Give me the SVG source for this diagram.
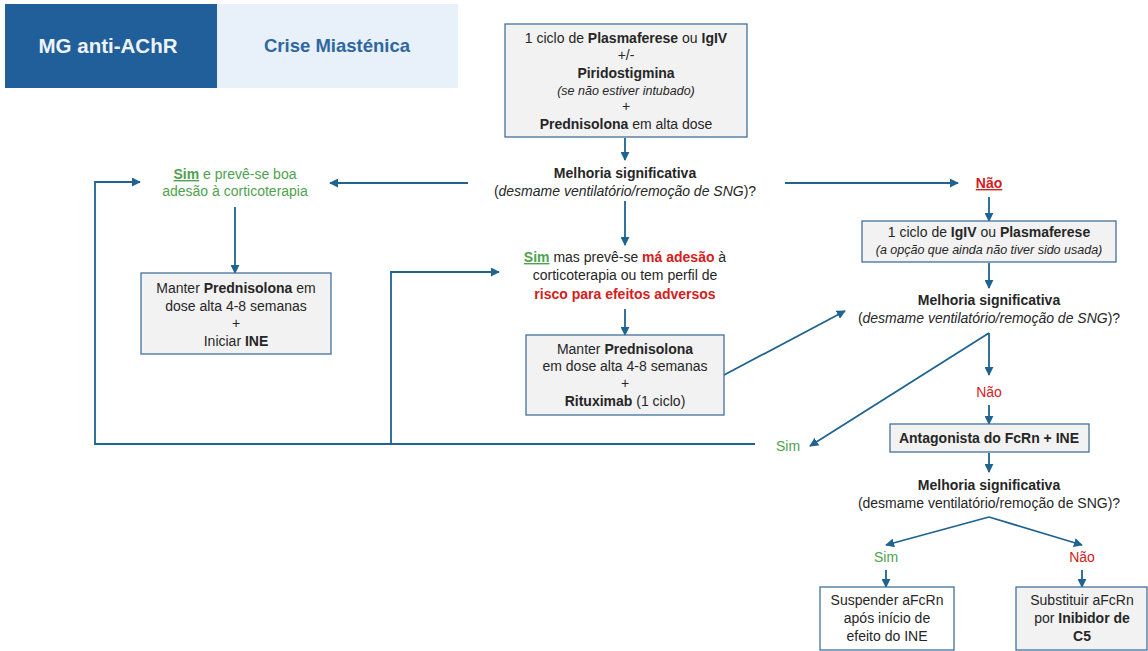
<svg xmlns="http://www.w3.org/2000/svg" width="1148" height="651" viewBox="0 0 1148 651">
  <defs>
    <marker id="arr" viewBox="0 0 10 10" refX="9" refY="5" markerWidth="9" markerHeight="9" markerUnits="userSpaceOnUse" orient="auto">
      <path d="M0,0 L10,5 L0,10 z" fill="#1f6390"/>
    </marker>
    <style>
      text { font-family: "Liberation Sans", Arial, sans-serif; font-size: 14px; fill: #262626; text-anchor: middle; }
      .b { font-weight: bold; }
      .i { font-style: italic; }
      .s { font-size: 12.5px; }
      .g { fill: #4ea24e; }
      .r { fill: #d42020; }
      .box { fill: #f2f2f2; stroke: #41719c; stroke-width: 1.3; }
      .wbox { fill: #ffffff; stroke: #41719c; stroke-width: 1.3; }
      .ca { fill: none; stroke: #1f6390; stroke-width: 1.8; marker-end: url(#arr); }
    </style>
  </defs>
  <rect width="1148" height="651" fill="#ffffff"/>

  <!-- header tabs -->
  <g id="header">
    <rect x="5" y="4" width="212" height="84" fill="#215f9a"/>
    <rect x="217" y="4" width="241" height="84" fill="#e8f0f9"/>
    <text x="108" y="53" class="b" style="font-size:20.5px;fill:#eef3f8">MG anti-AChR</text>
    <text x="337" y="52" class="b" style="font-size:18.5px;fill:#2e67a0">Crise Miasténica</text>
  </g>

  <!-- connectors -->
  <g id="connectors">
    <line class="ca" x1="625" y1="138" x2="625" y2="160"/>
    <line class="ca" x1="468" y1="183" x2="330" y2="183"/>
    <line class="ca" x1="785" y1="183" x2="958" y2="183"/>
    <line class="ca" x1="235" y1="207" x2="235" y2="273"/>
    <line class="ca" x1="625" y1="201" x2="625" y2="245"/>
    <line class="ca" x1="625" y1="309" x2="625" y2="335"/>
    <line class="ca" x1="724" y1="375" x2="845" y2="311"/>
    <line class="ca" x1="989" y1="197" x2="989" y2="221"/>
    <line class="ca" x1="989" y1="263" x2="989" y2="288"/>
    <line class="ca" x1="989" y1="333" x2="989" y2="375"/>
    <line class="ca" x1="989" y1="333" x2="810" y2="446"/>
    <line class="ca" x1="989" y1="405" x2="989" y2="424"/>
    <line class="ca" x1="989" y1="453" x2="989" y2="472"/>
    <line class="ca" x1="989" y1="517" x2="886" y2="545"/>
    <line class="ca" x1="989" y1="517" x2="1082" y2="545"/>
    <line class="ca" x1="886" y1="570" x2="886" y2="587"/>
    <line class="ca" x1="1082" y1="570" x2="1082" y2="587"/>
    <polyline class="ca" points="755,444 95,444 95,182 140,182"/>
    <polyline class="ca" points="391,444 391,272 499,272"/>
  </g>

  <!-- first-line treatment -->
  <g id="n-inicial">
    <rect class="box" x="505" y="24" width="242" height="113"/>
    <text x="626" y="43">1 ciclo de <tspan class="b">Plasmaferese</tspan> ou <tspan class="b">IgIV</tspan></text>
    <text x="626" y="60">+/-</text>
    <text x="626" y="78" class="b">Piridostigmina</text>
    <text x="626" y="95" class="i s">(se não estiver intubado)</text>
    <text x="626" y="111">+</text>
    <text x="626" y="129"><tspan class="b">Prednisolona</tspan> em alta dose</text>
  </g>

  <g id="q1">
    <text x="625" y="178" class="b">Melhoria significativa</text>
    <text x="625" y="196">(<tspan class="i">desmame ventilatório/remoção de SNG</tspan>)?</text>
  </g>

  <g id="sim-boa">
    <text x="235" y="179" class="g"><tspan class="b" text-decoration="underline">Sim</tspan> e prevê-se boa</text>
    <text x="235" y="196" class="g">adesão à corticoterapia</text>
  </g>

  <g id="n-ine">
    <rect class="box" x="141" y="273" width="190" height="81"/>
    <text x="236" y="293">Manter <tspan class="b">Prednisolona</tspan> em</text>
    <text x="236" y="311">dose alta 4-8 semanas</text>
    <text x="236" y="328">+</text>
    <text x="236" y="346">Iniciar <tspan class="b">INE</tspan></text>
  </g>

  <g id="sim-ma">
    <text x="625" y="262"><tspan class="b g" text-decoration="underline">Sim</tspan> mas prevê-se <tspan class="b r">má adesão</tspan> à</text>
    <text x="625" y="280">corticoterapia ou tem perfil de</text>
    <text x="625" y="299" class="b r">risco para efeitos adversos</text>
  </g>

  <g id="n-rtx">
    <rect class="box" x="526" y="335" width="198" height="80"/>
    <text x="625" y="354">Manter <tspan class="b">Prednisolona</tspan></text>
    <text x="625" y="371">em dose alta 4-8 semanas</text>
    <text x="625" y="388">+</text>
    <text x="625" y="406"><tspan class="b">Rituximab</tspan> (1 ciclo)</text>
  </g>

  <g id="nao1">
    <text x="989" y="188" class="b r" text-decoration="underline">Não</text>
  </g>

  <g id="n-segundo">
    <rect class="box" x="862" y="221" width="254" height="41"/>
    <text x="989" y="237">1 ciclo de <tspan class="b">IgIV</tspan> ou <tspan class="b">Plasmaferese</tspan></text>
    <text x="989" y="254" class="i s">(a opção que ainda não tiver sido usada)</text>
  </g>

  <g id="q2">
    <text x="989" y="305" class="b">Melhoria significativa</text>
    <text x="989" y="323">(<tspan class="i">desmame ventilatório/remoção de SNG</tspan>)?</text>
  </g>

  <g id="nao2">
    <text x="989" y="397" class="r">Não</text>
  </g>

  <g id="sim2">
    <text x="788" y="451" class="g">Sim</text>
  </g>

  <g id="n-fcrn">
    <rect class="box" x="890" y="424" width="199" height="28"/>
    <text x="989" y="443" class="b">Antagonista do FcRn + INE</text>
  </g>

  <g id="q3">
    <text x="989" y="490" class="b">Melhoria significativa</text>
    <text x="989" y="508">(desmame ventilatório/remoção de SNG)?</text>
  </g>

  <g id="sim3">
    <text x="886" y="562" class="g">Sim</text>
  </g>
  <g id="nao3">
    <text x="1082" y="562" class="r">Não</text>
  </g>

  <g id="n-suspender">
    <rect class="wbox" x="820" y="587" width="134" height="63"/>
    <text x="887" y="605">Suspender aFcRn</text>
    <text x="887" y="623">após início de</text>
    <text x="887" y="641">efeito do INE</text>
  </g>

  <g id="n-c5">
    <rect class="box" x="1016" y="587" width="131" height="63"/>
    <text x="1082" y="605">Substituir aFcRn</text>
    <text x="1082" y="623">por <tspan class="b">Inibidor de</tspan></text>
    <text x="1082" y="641" class="b">C5</text>
  </g>
</svg>
